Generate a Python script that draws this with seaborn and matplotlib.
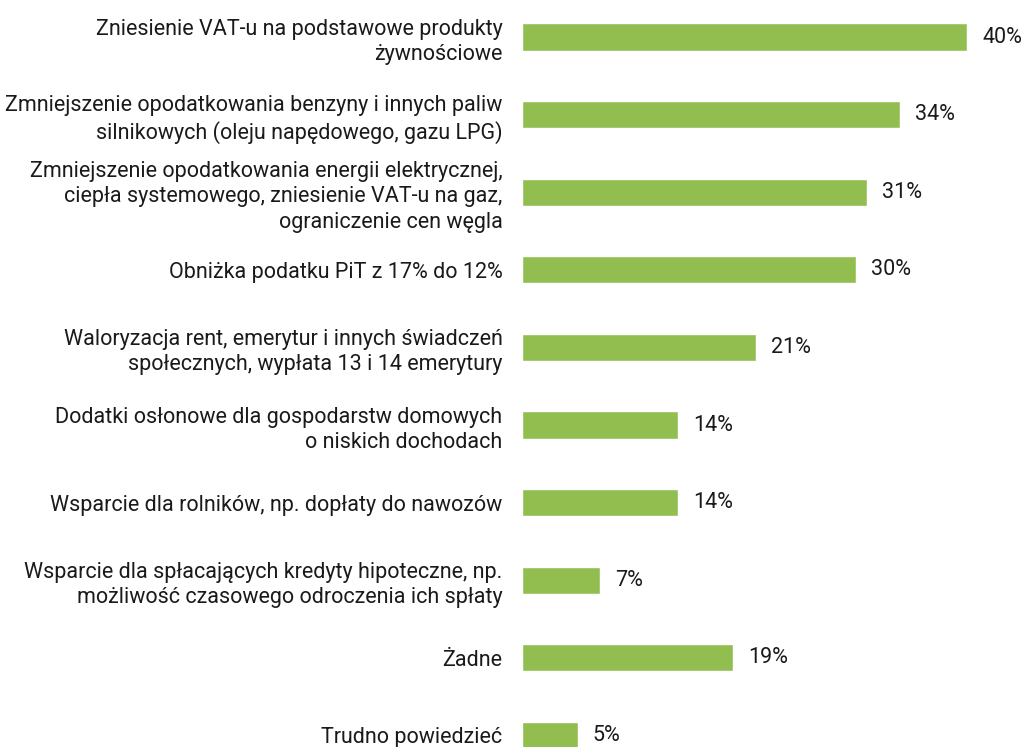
import matplotlib
matplotlib.use("Agg")
import matplotlib.pyplot as plt
import seaborn as sns
import pandas as pd

# --- DATA ---
categories = [
    "Zniesienie VAT-u na podstawowe produkty\nżywnościowe",
    "Zmniejszenie opodatkowania benzyny i innych paliw\nsilnikowych (oleju napędowego, gazu LPG)",
    "Zmniejszenie opodatkowania energii elektrycznej,\nciepła systemowego, zniesienie VAT-u na gaz,\nograniczenie cen węgla",
    "Obniżka podatku PiT z 17% do 12%",
    "Waloryzacja rent, emerytur i innych świadczeń\nspołecznych, wypłata 13 i 14 emerytury",
    "Dodatki osłonowe dla gospodarstw domowych\no niskich dochodach",
    "Wsparcie dla rolników, np. dopłaty do nawozów",
    "Wsparcie dla spłacających kredyty hipoteczne, np.\nmożliwość czasowego odroczenia ich spłaty",
    "Żadne",
    "Trudno powiedzieć",
]
values = [40, 34, 31, 30, 21, 14, 14, 7, 19, 5]

df = pd.DataFrame({"category": categories, "value": values})

# --- STYLE ---
sns.set_style("white")
plt.rcParams["font.family"] = ["Roboto", "DejaVu Sans"]

fig = plt.figure(figsize=(10.27, 7.47), dpi=100)
ax = fig.add_axes([522 / 1027, 0, 467 / 1027, 1])

sns.barplot(data=df, x="value", y="category", orient="h",
            color="#92BE50", saturation=1, width=0.35, ax=ax)

ax.set_xlim(0, 42)
ax.set_ylim(9.149, -0.477)

for c in ax.containers:
    ax.bar_label(c, labels=[f"{v}%" for v in values], padding=11,
                 fontsize=15.5, color="#1a1a1a")

ax.set_xlabel("")
ax.set_ylabel("")
ax.set_xticks([])
ax.tick_params(axis="y", length=0, pad=14, labelsize=15.5, labelcolor="#1a1a1a")
for lbl in ax.get_yticklabels():
    lbl.set_linespacing(1.28)
sns.despine(ax=ax, left=True, bottom=True)

fig.savefig("out.png", dpi=100)
